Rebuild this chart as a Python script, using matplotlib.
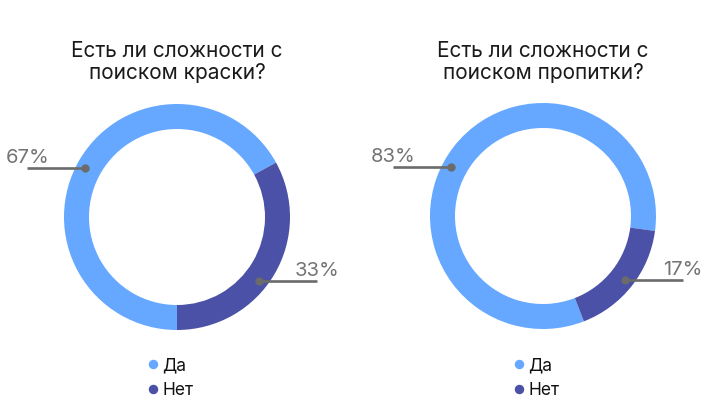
import numpy as np
import matplotlib
matplotlib.use('Agg')
import matplotlib.pyplot as plt

plt.rcParams['font.family'] = ['Inter', 'DejaVu Sans']

# data
titles = ['Есть ли сложности с\nпоиском краски?',
          'Есть ли сложности с\nпоиском пропитки?']
categories = ['Да', 'Нет']
values_paint = [67, 33]
values_impreg = [83, 17]

colors = ['#66a8ff', '#4a51a6']
gray = '#6b6b6b'

W, H = 720, 420


#----------------------------------------------------------------------
def py(y):
    """ pixel y (top down) -> axes y """
    return H - y


#----------------------------------------------------------------------
def draw_donut(ax, cx, cy, vals, title, start):
    """
    one donut with title, labels and legend
    """
    ax.pie(vals, colors=colors, center=(cx, py(cy)), radius=113,
           startangle=start, counterclock=False,
           wedgeprops=dict(width=25, linewidth=0))

    # baseline of the last title line
    ax.text(cx, py(79), title, ha='center', va='baseline', fontsize=15,
            color='#1a1a1a', linespacing=1.1)

    # labels: dot on ring, horizontal leader, text centered on leader end
    label_ang = [298, 128]
    sides = [-1, 1]
    for v, a, s in zip(vals, label_ang, sides):
        r = 104
        dx = cx + r * np.sin(np.radians(a))
        dy = cy - r * np.cos(np.radians(a))
        ex = dx + s * 58
        ax.plot([dx, ex], [py(dy), py(dy)], color=gray, lw=1.9,
                solid_capstyle='butt')
        ax.plot(dx, py(dy), 'o', color=gray, ms=5)
        ax.text(ex, py(dy - 5), '%d%%' % v, ha='center', va='baseline',
                fontsize=14.5, color='#747474')

    # legend
    for i, c in enumerate(categories):
        ly = 364 + i * 25
        ax.plot(cx - 24, py(ly), 'o', color=colors[i], ms=5.8)
        ax.text(cx - 15, py(ly + 6), c, ha='left', va='baseline',
                fontsize=12.5, color='#111111')


fig = plt.figure(figsize=(7.2, 4.2), dpi=100)
ax = fig.add_axes([0, 0, 1, 1])

draw_donut(ax, 177, 217, values_paint, titles[0], -90)
draw_donut(ax, 543, 216, values_impreg, titles[1], -68.8)

ax.set_xlim(0, W)
ax.set_ylim(0, H)
ax.set_aspect('equal')
ax.axis('off')

fig.savefig('out.png', dpi=100)
